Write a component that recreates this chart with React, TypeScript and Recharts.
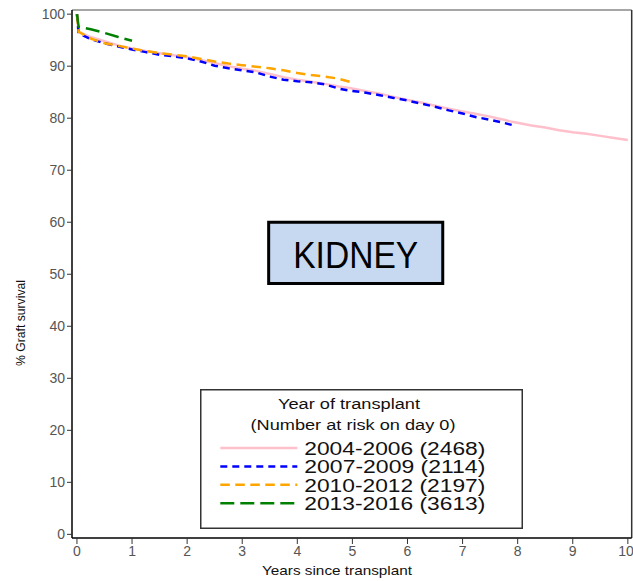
import React from "react";
import {
  LineChart,
  Line,
  XAxis,
  YAxis,
  ReferenceArea,
  ReferenceLine,
  Label,
} from "recharts";

// years since transplant (shared grid)
const YEARS = [
  0, 0.03, 0.25, 0.5, 0.75, 1, 1.25, 1.5, 1.75, 2, 2.25, 2.5, 2.75, 3, 3.25,
  3.5, 3.75, 4, 4.25, 4.5, 4.75, 4.95, 5.25, 5.5, 5.75, 6, 6.25, 6.5, 6.75, 7,
  7.25, 7.5, 7.75, 7.9, 8.25, 8.5, 8.75, 9, 9.25, 9.5, 9.75, 10,
];

const S_2004 = [
  100, 96.6, 95.6, 94.8, 94.0, 93.4, 92.9, 92.5, 92.1, 91.7, 91.2, 90.6, 90.0,
  89.5, 89.1, 88.5, 87.9, 87.4, 87.0, 86.6, 86.1, 85.8, 85.2, 84.7, 84.1, 83.5,
  83.0, 82.4, 81.8, 81.3, 80.8, 80.3, 79.7, 79.3, 78.6, 78.2, 77.7, 77.3, 77.0,
  76.6, 76.2, 75.8,
];
const S_2007 = [
  100, 96.3, 95.2, 94.4, 93.8, 93.2, 92.7, 92.2, 91.9, 91.5, 90.9, 90.1, 89.6,
  89.2, 88.8, 88.0, 87.4, 87.1, 86.9, 86.5, 85.7, 85.3, 84.9, 84.4, 83.9, 83.4,
  82.8, 82.2, 81.5, 80.9, 80.2, 79.7, 79.1, 78.7,
];
const S_2010 = [
  100, 96.6, 95.3, 94.4, 93.9, 93.4, 92.9, 92.5, 92.2, 91.9, 91.4, 90.9, 90.5,
  90.2, 89.9, 89.6, 89.2, 88.7, 88.3, 88.0, 87.6, 87.0,
];
const S_2013 = [100, 97.6, 97.1, 96.4, 95.6, 94.9];

const Y_TICKS = [0, 10, 20, 30, 40, 50, 60, 70, 80, 90, 100];
const X_TICKS = [0, 1, 2, 3, 4, 5, 6, 7, 8, 9, 10];

const SERIES = [
  { key: "s2004", name: "2004-2006 (2468)", color: "#ffc0cb", dash: undefined },
  { key: "s2007", name: "2007-2009 (2114)", color: "#0000ff", dash: "7 5" },
  { key: "s2010", name: "2010-2012 (2197)", color: "#ffa500", dash: "9.5 5.5" },
  { key: "s2013", name: "2013-2016 (3613)", color: "#008000", dash: "14 6" },
];

const data = YEARS.map((t, i) => ({
  t,
  s2004: S_2004[i] ?? null,
  s2007: S_2007[i] ?? null,
  s2010: S_2010[i] ?? null,
  s2013: S_2013[i] ?? null,
}));

const FONT = "'Liberation Sans', Arial, sans-serif";

const LegendBox = () => (
  <svg width={323} height={140} style={{ display: "block" }}>
    <rect x={0.75} y={0.75} width={321.5} height={138.5} fill="#fff" stroke="#333" strokeWidth={1.5} />
    <text x={149} y={19.5} textAnchor="middle" fontSize={14} fontFamily={FONT} fill="#111" textLength={142} lengthAdjust="spacingAndGlyphs">
      Year of transplant
    </text>
    <text x={153} y={40.5} textAnchor="middle" fontSize={14} fontFamily={FONT} fill="#111" textLength={205} lengthAdjust="spacingAndGlyphs">
      (Number at risk on day 0)
    </text>
    {SERIES.map((s, i) => {
      const y = 59 + i * 18.4;
      return (
        <g key={s.key}>
          <line x1={20.3} x2={97.3} y1={y} y2={y} stroke={s.color} strokeWidth={2.5} strokeDasharray={s.dash} />
          <text x={104.3} y={y + 7} fontSize={18} fontFamily={FONT} fill="#111" textLength={181} lengthAdjust="spacingAndGlyphs">
            {s.name}
          </text>
        </g>
      );
    })}
  </svg>
);

export default function App() {
  return (
    <div style={{ position: "absolute", left: 0, top: 0, width: 633, height: 581, background: "#fff" }}>
      <LineChart
        width={633}
        height={581}
        data={data}
        margin={{ top: 10, right: 1.3, bottom: 0, left: 0 }}
      >
        <XAxis
          type="number"
          dataKey="t"
          domain={[-0.09, 10.07]}
          ticks={X_TICKS}
          allowDataOverflow
          height={43}
          tickSize={6}
          tick={{ fontSize: 14, fill: "#555", fontFamily: FONT }}
          axisLine={{ stroke: "#000", strokeWidth: 1.5 }}
          tickLine={{ stroke: "#333" }}
        >
          <Label
            content={() => (
              <text x={337} y={575} textAnchor="middle" fontSize={13.5} fontFamily={FONT} fill="#111" textLength={150} lengthAdjust="spacingAndGlyphs">
                Years since transplant
              </text>
            )}
          />
        </XAxis>
        <YAxis
          type="number"
          domain={[-0.7, 100.8]}
          ticks={Y_TICKS}
          allowDataOverflow
          width={72}
          tickSize={5}
          tick={{ fontSize: 14, fill: "#555", fontFamily: FONT }}
          axisLine={{ stroke: "#000", strokeWidth: 1.5 }}
          tickLine={{ stroke: "#333" }}
        >
          <Label
            content={() => (
              <text x={24.5} y={323} transform="rotate(-90 24.5 323)" textAnchor="middle" fontSize={13} fontFamily={FONT} fill="#111" textLength={86} lengthAdjust="spacingAndGlyphs">
                % Graft survival
              </text>
            )}
          />
        </YAxis>
        <ReferenceLine y={100.8} stroke="#888" strokeWidth={1.5} />
        <ReferenceLine x={10.07} stroke="#333" strokeWidth={1.5} />
        <ReferenceArea
          x1={3.48}
          x2={6.64}
          y1={48.2}
          y2={60}
          fill="#c6d9f1"
          fillOpacity={1}
          stroke="#000"
          strokeWidth={3}
          label={({ viewBox }: any) => (
            <text
              x={viewBox.x + viewBox.width / 2}
              y={viewBox.y + 46}
              textAnchor="middle"
              fontSize={36}
              fontFamily={FONT}
              fill="#000"
              textLength={125}
              lengthAdjust="spacingAndGlyphs"
            >
              KIDNEY
            </text>
          )}
        />
        {SERIES.map((s) => (
          <Line
            key={s.key}
            type="linear"
            dataKey={s.key}
            name={s.name}
            stroke={s.color}
            strokeWidth={2.5}
            strokeDasharray={s.dash}
            dot={false}
            activeDot={false}
            connectNulls={false}
            isAnimationActive={false}
          />
        ))}
      </LineChart>
      <div style={{ position: "absolute", left: 200, top: 389 }}>
        <LegendBox />
      </div>
    </div>
  );
}
